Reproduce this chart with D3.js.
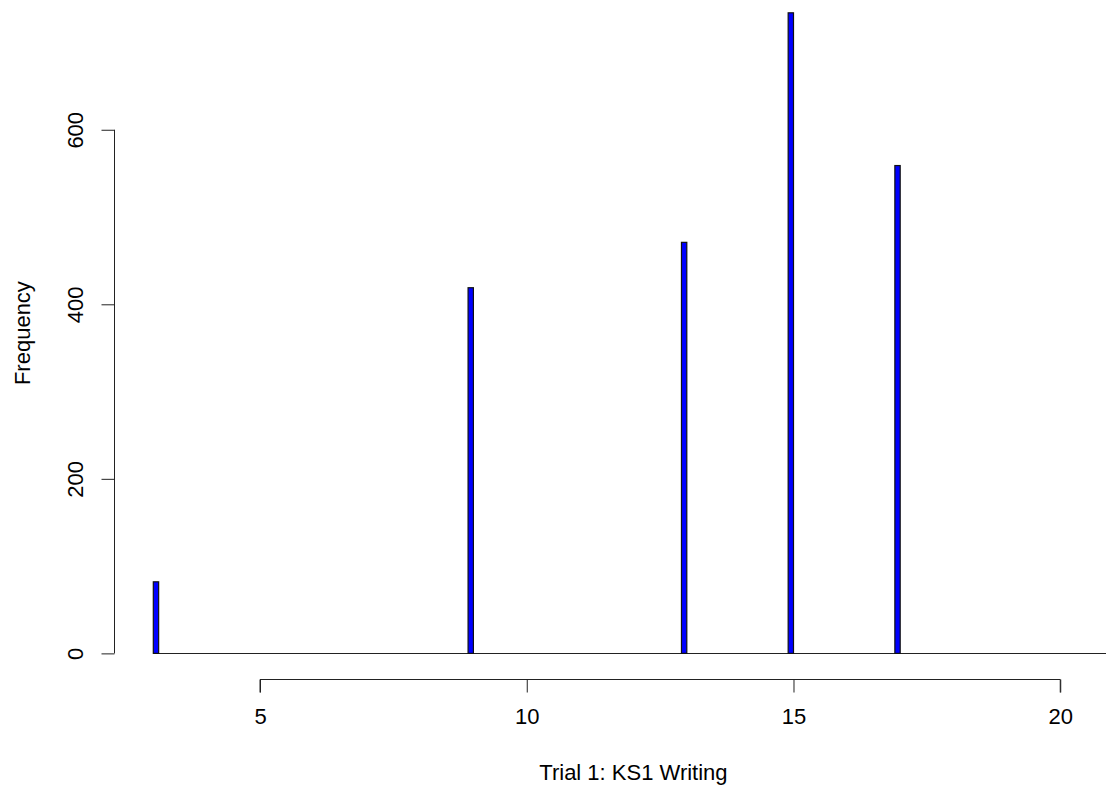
<!DOCTYPE html>
<html>
<head>
<meta charset="utf-8">
<script src="https://cdn.jsdelivr.net/npm/d3@7"></script>
<style>
  html, body { margin: 0; padding: 0; background: #fff; }
  svg { display: block; }
  text { font-family: "Liberation Sans", Arial, sans-serif; fill: #000; }
</style>
</head>
<body>
<svg id="chart" width="1106" height="790"></svg>
<script>
// Histogram of KS1 writing scores (bin width 0.1, right-closed bins)
const scores = [3, 9, 13, 15, 17];
const counts = [82, 419, 471, 734, 559];
const xTicks = [5, 10, 15, 20];
const yTicks = [0, 200, 400, 600];
const breakMin = 3, breakMax = 21, binWidth = 0.1;
const xTitle = "Trial 1: KS1 Writing";
const yTitle = "Frequency";
const fontSize = 22;

const svg = d3.select("#chart");

// plot region spans the break range padded by 4%, as in base graphics
const xPad = (breakMax - breakMin) * 0.04;
const x = d3.scaleLinear()
  .domain([breakMin - xPad, breakMax + xPad])
  .range([114.9, 1152]);

const yMax = d3.max(counts);
const yPad = yMax * 0.04;
const y = d3.scaleLinear()
  .domain([-yPad, yMax + yPad])
  .range([679, -12.8]);

// zero-height bins draw as a line along the baseline
const breaks = d3.range(breakMin, breakMax + binWidth / 2, binWidth);
svg.append("line")
  .attr("x1", x(breaks[0])).attr("x2", x(breaks[breaks.length - 1]))
  .attr("y1", Math.round(y(0)) + 0.5).attr("y2", Math.round(y(0)) + 0.5)
  .attr("stroke", "#222").attr("stroke-width", 1);

// bars: the lowest value falls in the first bin, others in (v-0.1, v]
const bars = scores.map((s, i) => {
  const x0 = s === breakMin ? s : s - binWidth;
  return { x0, x1: x0 + binWidth, n: counts[i] };
});
svg.append("g").selectAll("rect").data(bars).join("rect")
  .attr("x", d => x(d.x0))
  .attr("width", d => x(d.x1) - x(d.x0))
  .attr("y", d => y(d.n))
  .attr("height", d => y(0) - y(d.n))
  .attr("fill", "#0000ff")
  .attr("stroke", "#111")
  .attr("stroke-width", 1.2);

// x axis (bottom, detached below the plot region)
const xAxisG = svg.append("g")
  .attr("transform", `translate(0,${679.5})`)
  .call(d3.axisBottom(x).tickValues(xTicks).tickSize(13).tickPadding(16).tickFormat(d3.format("d")));
xAxisG.select(".domain").attr("d", `M${x(xTicks[0])},13V0H${x(xTicks[xTicks.length - 1])}V13`)
  .attr("stroke", "#222");
xAxisG.selectAll(".tick line").attr("stroke", "#222");
xAxisG.selectAll(".tick text").attr("font-size", fontSize).attr("font-family", "Liberation Sans, Arial, sans-serif").attr("fill", "#000");

// y axis (left), labels parallel to the axis
const yAxisG = svg.append("g")
  .attr("transform", `translate(${114.5},0)`)
  .call(d3.axisLeft(y).tickValues(yTicks).tickSize(13).tickFormat(d3.format("d")));
yAxisG.select(".domain").attr("d", `M0,${y(yTicks[0])}V${y(yTicks[yTicks.length - 1])}`)
  .attr("stroke", "#222");
yAxisG.selectAll(".tick line").attr("stroke", "#222");
yAxisG.selectAll(".tick text")
  .attr("x", null).attr("dy", null)
  .attr("transform", "translate(-32,0) rotate(-90)")
  .attr("text-anchor", "middle")
  .attr("font-size", fontSize).attr("font-family", "Liberation Sans, Arial, sans-serif").attr("fill", "#000");

// axis titles
svg.append("text")
  .attr("x", (x.range()[0] + x.range()[1]) / 2)
  .attr("y", 780)
  .attr("text-anchor", "middle")
  .attr("font-size", fontSize)
  .text(xTitle);

svg.append("text")
  .attr("transform", `translate(30,${(y.range()[0] + y.range()[1]) / 2}) rotate(-90)`)
  .attr("text-anchor", "middle")
  .attr("font-size", fontSize)
  .text(yTitle);
</script>
</body>
</html>
